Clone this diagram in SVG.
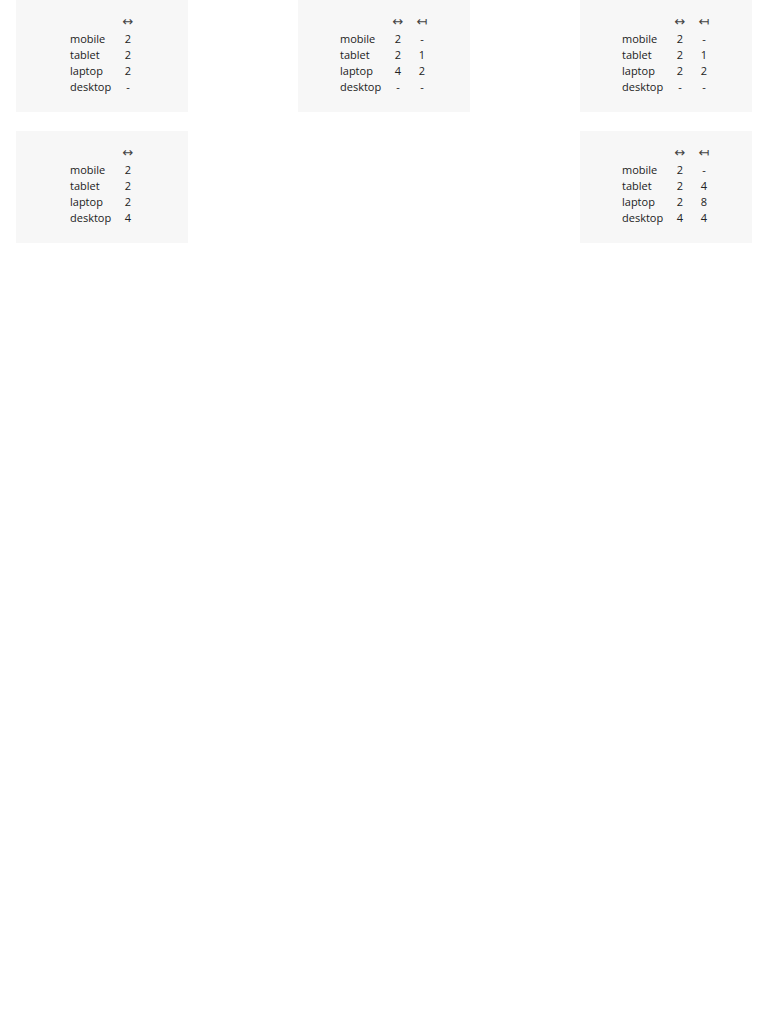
<svg xmlns="http://www.w3.org/2000/svg" width="768" height="1024" viewBox="0 0 768 1024">
<style>
.bg{fill:#f7f7f7}
text{font-family:"Open Sans","Noto Sans","DejaVu Sans",sans-serif;font-size:11px;fill:#222}
.c{text-anchor:middle}
.h{font-family:"DejaVu Sans",sans-serif;font-size:13px;fill:#444}
</style>
<rect width="768" height="1024" fill="#ffffff"/>
<g id="box1">
<rect class="bg" x="16" y="0" width="172" height="112"/>
<text class="c h" x="128" y="26">↔</text>
<text x="70" y="43">mobile</text><text class="c" x="128" y="43">2</text>
<text x="70" y="59">tablet</text><text class="c" x="128" y="59">2</text>
<text x="70" y="75">laptop</text><text class="c" x="128" y="75">2</text>
<text x="70" y="91">desktop</text><text class="c" x="128" y="91">-</text>
</g>
<g id="box2">
<rect class="bg" x="298" y="0" width="172" height="112"/>
<text class="c h" x="398" y="26">↔</text><text class="c h" x="422" y="26">↤</text>
<text x="340" y="43">mobile</text><text class="c" x="398" y="43">2</text><text class="c" x="422" y="43">-</text>
<text x="340" y="59">tablet</text><text class="c" x="398" y="59">2</text><text class="c" x="422" y="59">1</text>
<text x="340" y="75">laptop</text><text class="c" x="398" y="75">4</text><text class="c" x="422" y="75">2</text>
<text x="340" y="91">desktop</text><text class="c" x="398" y="91">-</text><text class="c" x="422" y="91">-</text>
</g>
<g id="box3">
<rect class="bg" x="580" y="0" width="172" height="112"/>
<text class="c h" x="680" y="26">↔</text><text class="c h" x="704" y="26">↤</text>
<text x="622" y="43">mobile</text><text class="c" x="680" y="43">2</text><text class="c" x="704" y="43">-</text>
<text x="622" y="59">tablet</text><text class="c" x="680" y="59">2</text><text class="c" x="704" y="59">1</text>
<text x="622" y="75">laptop</text><text class="c" x="680" y="75">2</text><text class="c" x="704" y="75">2</text>
<text x="622" y="91">desktop</text><text class="c" x="680" y="91">-</text><text class="c" x="704" y="91">-</text>
</g>
<g id="box4">
<rect class="bg" x="16" y="131" width="172" height="112"/>
<text class="c h" x="128" y="157">↔</text>
<text x="70" y="174">mobile</text><text class="c" x="128" y="174">2</text>
<text x="70" y="190">tablet</text><text class="c" x="128" y="190">2</text>
<text x="70" y="206">laptop</text><text class="c" x="128" y="206">2</text>
<text x="70" y="222">desktop</text><text class="c" x="128" y="222">4</text>
</g>
<g id="box5">
<rect class="bg" x="580" y="131" width="172" height="112"/>
<text class="c h" x="680" y="157">↔</text><text class="c h" x="704" y="157">↤</text>
<text x="622" y="174">mobile</text><text class="c" x="680" y="174">2</text><text class="c" x="704" y="174">-</text>
<text x="622" y="190">tablet</text><text class="c" x="680" y="190">2</text><text class="c" x="704" y="190">4</text>
<text x="622" y="206">laptop</text><text class="c" x="680" y="206">2</text><text class="c" x="704" y="206">8</text>
<text x="622" y="222">desktop</text><text class="c" x="680" y="222">4</text><text class="c" x="704" y="222">4</text>
</g>
<g id="connectors"></g>
</svg>
